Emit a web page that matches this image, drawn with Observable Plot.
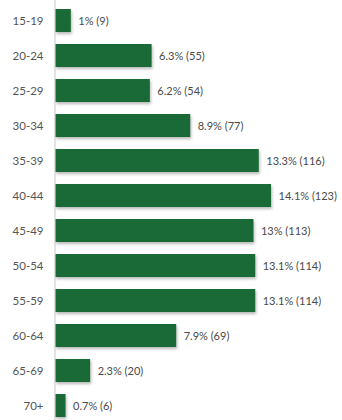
<!DOCTYPE html>
<html>
<head>
<meta charset="utf-8">
<script src="https://cdn.jsdelivr.net/npm/d3@7"></script>
<script src="https://cdn.jsdelivr.net/npm/@observablehq/plot@0.6"></script>
<style>
  html, body { margin: 0; padding: 0; background: #fff; }
  #chart svg { display: block; }
  #chart g[aria-label="bar"] { filter: drop-shadow(1.5px 2px 1.5px rgba(0,0,0,0.28)); }
</style>
</head>
<body>
<div id="chart"></div>
<script>
const ageGroups = ["15-19","20-24","25-29","30-34","35-39","40-44","45-49","50-54","55-59","60-64","65-69","70+"];
const percents = [1, 6.3, 6.2, 8.9, 13.3, 14.1, 13, 13.1, 13.1, 7.9, 2.3, 0.7];
const counts = [9, 55, 54, 77, 116, 123, 113, 114, 114, 69, 20, 6];

const data = ageGroups.map((a, i) => ({age: a, pct: percents[i], n: counts[i], label: `${percents[i]}% (${counts[i]})`}));

const chart = Plot.plot({
  width: 342,
  height: 420,
  marginLeft: 55,
  marginRight: 0,
  marginTop: 0,
  marginBottom: 0,
  style: {fontFamily: "Lato, sans-serif", fontSize: "11px", background: "#fff"},
  x: {domain: [0, 163.4], axis: null},
  y: {domain: ageGroups, range: [6, 420], paddingInner: 0.35, paddingOuter: 0, label: null, tickSize: 0, tickPadding: 12},
  marks: [
    Plot.barX(data, {y: "age", x: "n", fill: "#196a36"}),
    Plot.ruleX([0], {stroke: "#d0d0d0", strokeWidth: 1.2, dx: -0.5}),
    Plot.text(data, {y: "age", x: "n", text: "label", dx: 7, textAnchor: "start", fill: "#4a4a4a", fontSize: 11}),
    Plot.axisY({tickSize: 0, tickPadding: 12, color: "#555", fontSize: 11.5})
  ]
});
document.getElementById("chart").appendChild(chart);
</script>
</body>
</html>
